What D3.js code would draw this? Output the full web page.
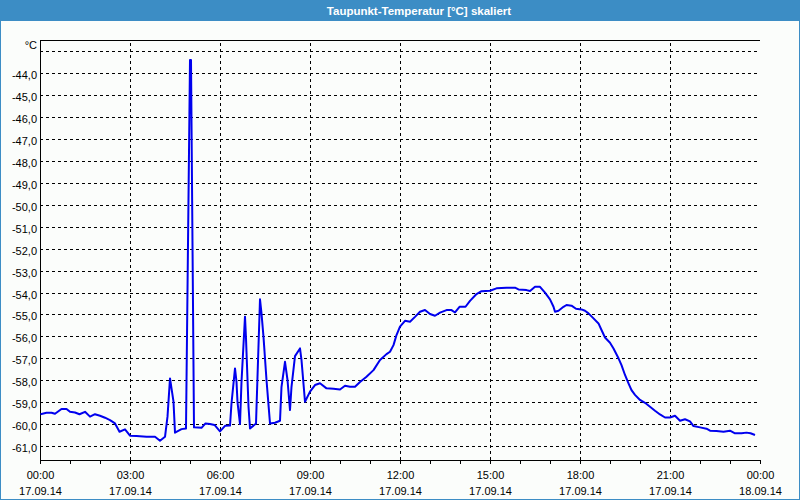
<!DOCTYPE html>
<html>
<head>
<meta charset="utf-8">
<script src="https://cdn.jsdelivr.net/npm/d3@7"></script>
<style>
  html, body { margin: 0; padding: 0; background: #fbfdfb; }
  svg { display: block; }
  text { font-family: "Liberation Sans", Arial, sans-serif; }
</style>
</head>
<body>
<svg id="chart" width="800" height="500"></svg>
<script>
// ---------- data ----------
const title = "Taupunkt-Temperatur [°C] skaliert";
const unitLabel = "°C";
// minutes since 17.09.14 00:00
const minutes = [1,13,23,30,43,53,60,70,79,90,100,110,120,130,140,150,159,170,180,193,213,230,240,250,255,260,267,270,283,292,
  300,302,308,323,331,340,349,360,370,380,383,390,393,395,400,403,410,412,417,420,427,432,435,440,443,447,453,460,470,480,
  483,490,495,500,503,510,520,523,530,540,550,560,573,587,600,610,620,630,640,653,667,680,693,700,707,713,720,730,740,750,
  760,770,780,790,800,813,823,830,839,851,860,873,883,900,913,933,950,957,973,980,990,1000,1010,1020,1027,1030,1037,1047,
  1053,1063,1072,1083,1090,1097,1107,1117,1123,1130,1140,1147,1157,1163,1170,1177,1183,1190,1200,1210,1220,1230,1240,1250,
  1260,1270,1280,1290,1300,1307,1320,1333,1340,1353,1367,1380,1390,1403,1413,1421,1430];
const values = [-59.55,-59.48,-59.48,-59.53,-59.31,-59.31,-59.44,-59.47,-59.55,-59.44,-59.66,-59.55,-59.62,-59.71,-59.82,-59.97,-60.35,-60.24,-60.53,-60.54,-60.58,-60.58,-60.76,-60.58,-59.66,-57.92,-58.98,-60.39,-60.23,-60.2,
  -43.4,-43.4,-60.15,-60.17,-59.97,-60.0,-60.04,-60.33,-60.08,-60.07,-59.05,-57.46,-58.07,-59.0,-60.0,-58.07,-55.1,-56.1,-59.2,-60.2,-60.07,-59.97,-57.84,-54.31,-54.95,-56.02,-57.99,-59.97,-59.94,-59.85,
  -58.3,-57.16,-57.99,-59.36,-58.3,-56.9,-56.55,-57.08,-58.98,-58.52,-58.22,-58.14,-58.37,-58.39,-58.42,-58.25,-58.3,-58.3,-58.08,-57.84,-57.54,-57.08,-56.81,-56.7,-56.4,-55.94,-55.56,-55.29,-55.33,-55.11,
  -54.88,-54.8,-54.98,-55.06,-54.92,-54.8,-54.8,-54.91,-54.65,-54.65,-54.38,-54.07,-53.94,-53.92,-53.81,-53.78,-53.78,-53.86,-53.89,-53.93,-53.74,-53.74,-54.01,-54.31,-54.65,-54.88,-54.83,-54.65,
  -54.57,-54.6,-54.74,-54.77,-54.83,-54.95,-55.18,-55.41,-55.71,-56.05,-56.29,-56.55,-57.0,-57.31,-57.76,-58.14,-58.45,-58.67,-58.9,-59.03,-59.21,-59.39,-59.56,-59.7,
  -59.7,-59.62,-59.85,-59.78,-59.88,-60.09,-60.15,-60.21,-60.3,-60.32,-60.35,-60.3,-60.42,-60.42,-60.39,-60.42,-60.5];
const timeLabels = ["00:00","03:00","06:00","09:00","12:00","15:00","18:00","21:00","00:00"];
const dateLabels = ["17.09.14","17.09.14","17.09.14","17.09.14","17.09.14","17.09.14","17.09.14","17.09.14","18.09.14"];
const yLabelValues = d3.range(-61, -43, 1);      // -61 .. -44
const yGridValues = d3.range(-61, -42, 1);       // -61 .. -43

// ---------- layout ----------
const W = 800, H = 500;
const pL = 40, pR = 760, pT = 40, pB = 460;
const svg = d3.select("#chart");

// window frame
svg.append("rect").attr("x", 0).attr("y", 0).attr("width", W).attr("height", H)
  .attr("fill", "#fbfdfb");
svg.append("rect").attr("x", 0.5).attr("y", 0.5).attr("width", W - 1).attr("height", H - 1)
  .attr("fill", "none").attr("stroke", "#3c8dc5").attr("stroke-width", 1);
svg.append("rect").attr("x", 0).attr("y", 0).attr("width", W).attr("height", 21)
  .attr("fill", "#3c8dc5");
svg.append("text").attr("x", 419).attr("y", 14.5).attr("text-anchor", "middle")
  .attr("fill", "#ffffff").attr("font-weight", "bold").attr("font-size", "11.5px").text(title);

// ---------- scales ----------
const x = d3.scaleLinear().domain([0, 1440]).range([pL, pR]);
const y = d3.scaleLinear().domain([-61.638, -42.485]).range([pB, pT]);

// horizontal grid
const gy = svg.append("g").attr("transform", `translate(${pL},0)`)
  .call(d3.axisLeft(y).tickValues(yGridValues).tickSize(-(pR - pL)).tickFormat(""));
gy.select(".domain").remove();
gy.selectAll(".tick line").attr("stroke", "#000").attr("stroke-dasharray", "3,3")
  .attr("shape-rendering", "crispEdges");

// vertical grid (every 3 h)
const gx = svg.append("g").attr("transform", `translate(0,${pB})`)
  .call(d3.axisBottom(x).tickValues(d3.range(180, 1440, 180)).tickSize(-(pB - pT)).tickFormat(""));
gx.select(".domain").remove();
gx.selectAll(".tick line").attr("stroke", "#000").attr("stroke-dasharray", "3,3")
  .attr("shape-rendering", "crispEdges");

// y labels
const yl = svg.append("g").attr("transform", `translate(${pL - 3},2)`)
  .call(d3.axisLeft(y).tickValues(yLabelValues).tickSize(0).tickPadding(0)
    .tickFormat(d => d3.format(".1f")(d).replace("−", "-").replace(".", ",")));
yl.select(".domain").remove();
yl.selectAll("text").attr("font-size", "11px").attr("fill", "#000")
  .attr("font-family", "'Liberation Sans', Arial, sans-serif");
svg.append("text").attr("x", 37).attr("y", 49).attr("text-anchor", "end")
  .attr("font-size", "11px").attr("fill", "#000").text(unitLabel);

// x axis with hourly ticks
const xa = svg.append("g").attr("transform", `translate(0,${pB})`)
  .call(d3.axisBottom(x).tickValues(d3.range(0, 1441, 60)).tickSize(4).tickFormat(""));
xa.selectAll("line, path").attr("stroke", "#000").attr("shape-rendering", "crispEdges");

// x labels
const xl = svg.append("g").attr("transform", `translate(0,${pB})`)
  .call(d3.axisBottom(x).tickValues(d3.range(0, 1441, 180)).tickSize(0).tickPadding(0)
    .tickFormat((d, i) => timeLabels[i]));
xl.select(".domain").remove();
xl.selectAll("text").attr("font-size", "11px").attr("fill", "#000").attr("dy", null)
  .attr("y", 19)
  .attr("font-family", "'Liberation Sans', Arial, sans-serif");
xl.selectAll(".tick").append("text")
  .attr("y", 35).attr("text-anchor", "middle").attr("font-size", "11px").attr("fill", "#000")
  .attr("font-family", "'Liberation Sans', Arial, sans-serif")
  .text((d, i) => dateLabels[i]);

// frame lines (left and top)
svg.append("line").attr("x1", pL).attr("x2", pL).attr("y1", pT).attr("y2", pB)
  .attr("stroke", "#000").attr("shape-rendering", "crispEdges");
svg.append("line").attr("x1", pL).attr("x2", pR).attr("y1", pT).attr("y2", pT)
  .attr("stroke", "#000").attr("shape-rendering", "crispEdges");

// data line
const pts = minutes.map((m, i) => [m, values[i]]);
svg.append("path").datum(pts)
  .attr("fill", "none").attr("stroke", "#0000ee").attr("stroke-width", 2)
  .attr("stroke-linejoin", "round")
  .attr("d", d3.line().x(d => x(d[0])).y(d => y(d[1])));
</script>
</body>
</html>
